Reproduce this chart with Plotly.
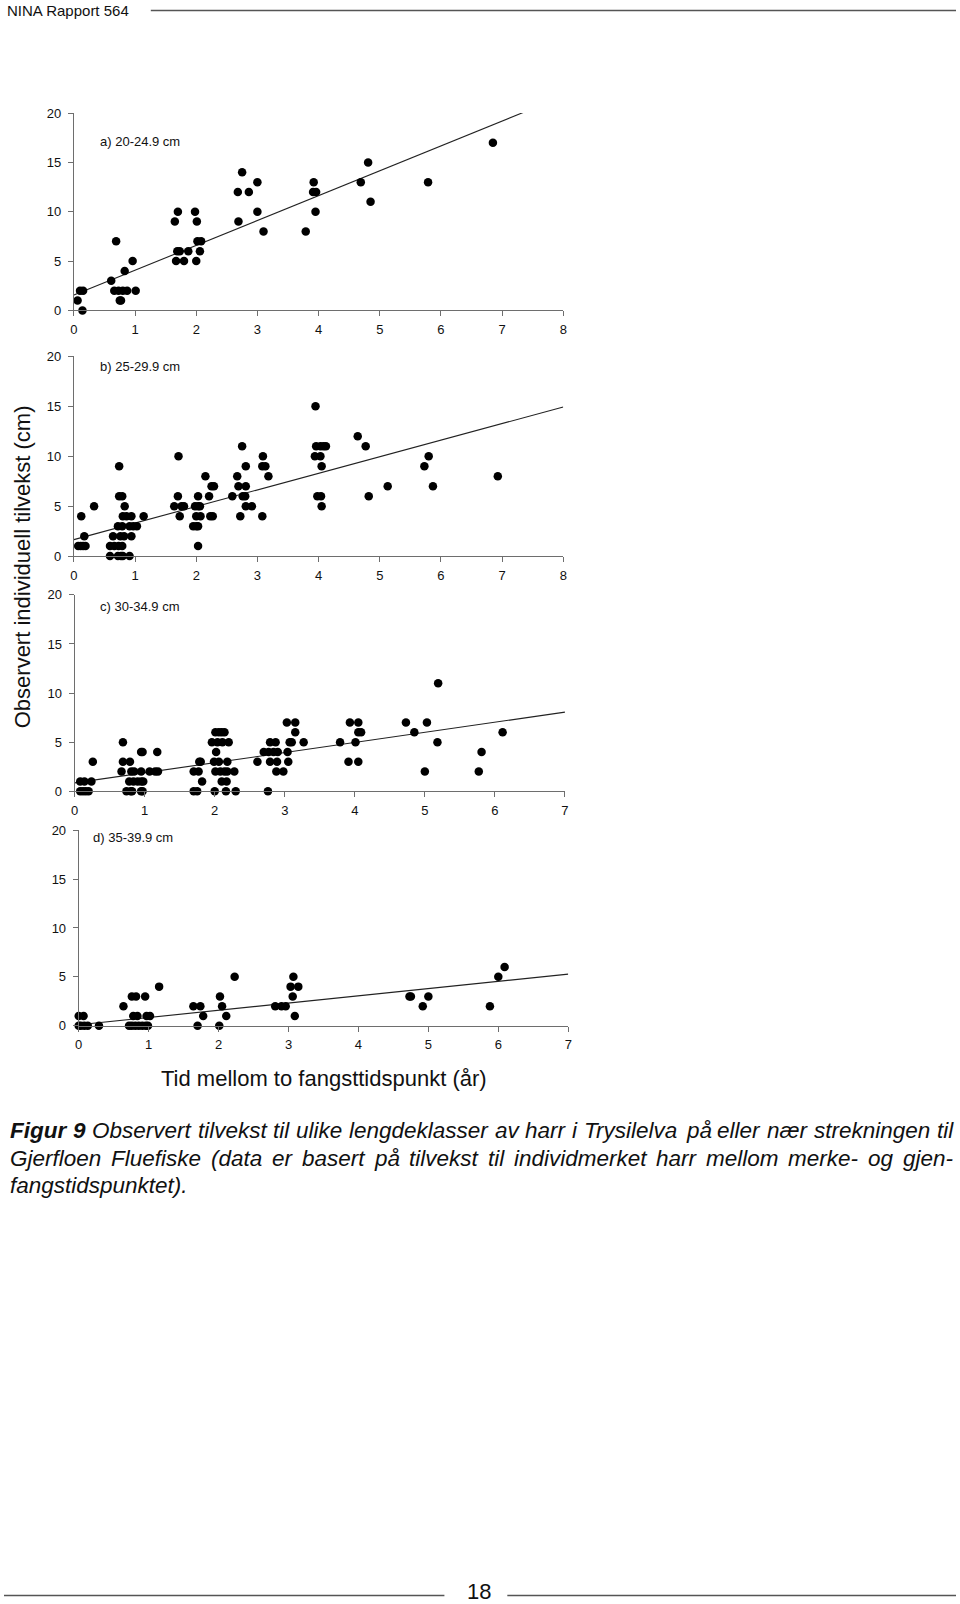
import plotly.graph_objects as go

# ---------------- data ----------------
a_x = [0.06, 0.10, 0.15, 0.14, 0.61, 0.69, 0.66, 0.73, 0.80, 0.87, 0.75, 0.77, 0.83, 0.96, 1.01,
       1.65, 1.70, 1.67, 1.69, 1.73, 1.80, 1.87, 1.98, 2.01, 2.00, 2.02, 2.08, 2.06,
       2.68, 2.69, 2.75, 2.86, 3.00, 3.00, 3.10, 3.79, 3.92, 3.91, 3.96, 3.95,
       4.69, 4.81, 4.85, 5.79, 6.85]
a_y = [1, 2, 2, 0, 3, 7, 2, 2, 2, 2, 1, 1, 4, 5, 2,
       9, 10, 5, 6, 6, 5, 6, 10, 9, 5, 7, 7, 6,
       12, 9, 14, 12, 13, 10, 8, 8, 13, 12, 12, 10,
       13, 15, 11, 13, 17]

b_x = [0.07, 0.11, 0.15, 0.19, 0.12, 0.17, 0.33,
       0.59, 0.59, 0.66, 0.73, 0.79, 0.64, 0.72, 0.77, 0.80, 0.91, 0.74, 0.74, 0.79, 0.72, 0.79,
       0.76, 0.82, 0.83, 0.80, 0.86, 0.91, 0.97, 1.03, 0.94, 0.94, 1.14,
       1.64, 1.76, 1.80, 1.70, 1.71, 1.73, 1.95, 2.00, 2.03, 1.98, 2.03, 2.06, 2.03, 2.00, 2.07,
       2.03, 2.15, 2.21, 2.23, 2.27, 2.25, 2.29,
       2.59, 2.67, 2.69, 2.72, 2.75, 2.76, 2.80, 2.81, 2.81, 2.81, 2.91, 3.08, 3.13, 3.09, 3.08, 3.18,
       3.94, 3.95, 3.96, 4.03, 4.08, 4.12, 4.03, 4.05, 3.98, 4.04, 4.05,
       4.64, 4.77, 4.82, 5.13, 5.73, 5.80, 5.87, 6.93]
b_y = [1, 1, 1, 1, 4, 2, 5,
       0, 1, 1, 1, 1, 2, 0, 0, 0, 0, 9, 6, 6, 3, 3,
       2, 2, 5, 4, 4, 3, 3, 3, 2, 4, 4,
       5, 5, 5, 6, 10, 4, 3, 3, 3, 5, 5, 5, 6, 4, 4,
       1, 8, 6, 4, 4, 7, 7,
       6, 8, 7, 4, 11, 6, 6, 7, 5, 9, 5, 9, 9, 10, 4, 8,
       10, 15, 11, 11, 11, 11, 10, 9, 6, 6, 5,
       12, 11, 6, 7, 9, 10, 7, 8]

c_x = [0.08, 0.12, 0.16, 0.20, 0.08, 0.14, 0.24, 0.26,
       0.67, 0.69, 0.69, 0.79, 0.74, 0.80, 0.82, 0.78, 0.84, 0.90, 0.95, 0.98, 0.81, 0.85,
       0.95, 0.95, 0.97, 0.95, 0.97, 1.07, 1.15, 1.19, 1.18,
       1.70, 1.77, 1.70, 1.75, 1.78, 1.80, 1.82,
       1.96, 2.04, 2.11, 2.20, 2.01, 2.06, 2.10, 2.14, 2.02, 1.99, 2.06, 2.18, 2.01, 2.08,
       2.14, 2.18, 2.10, 2.17, 2.00, 2.16, 2.28, 2.30,
       2.61, 2.70, 2.77, 2.84, 2.90, 2.79, 2.87, 2.79, 2.89, 2.76, 2.88, 2.98, 3.03, 3.15,
       3.04, 3.05, 3.07, 3.10, 3.15, 3.27,
       3.79, 3.91, 3.93, 4.01, 4.05, 4.05, 4.05, 4.09,
       4.73, 4.85, 5.00, 5.03, 5.19, 5.18, 5.77, 5.81, 6.11]
c_y = [0, 0, 0, 0, 1, 1, 1, 3,
       2, 5, 3, 3, 0, 0, 0, 1, 1, 1, 1, 1, 2, 2,
       2, 0, 0, 4, 4, 2, 2, 2, 4,
       2, 2, 0, 0, 3, 3, 1,
       5, 5, 5, 5, 6, 6, 6, 6, 4, 3, 3, 3, 2, 2,
       2, 2, 1, 1, 0, 0, 2, 0,
       3, 4, 4, 4, 4, 5, 5, 3, 3, 0, 2, 2, 7, 7,
       4, 3, 5, 5, 6, 5,
       5, 3, 7, 5, 7, 3, 6, 6,
       7, 6, 2, 7, 11, 5, 2, 4, 6]

d_x = [0.00, 0.03, 0.08, 0.13, 0.00, 0.07, 0.29,
       0.64, 0.72, 0.76, 0.81, 0.86, 0.91, 0.96, 0.99, 0.76, 0.82, 0.78, 0.84, 0.95, 0.97, 1.02, 1.15,
       1.64, 1.74, 1.70, 1.78, 2.01, 2.02, 2.05, 2.11, 2.23,
       2.81, 2.90, 2.96, 3.03, 3.06, 3.07, 3.14, 3.09,
       4.73, 4.75, 4.92, 5.00, 5.88, 6.00, 6.09]
d_y = [0, 0, 0, 0, 1, 1, 0,
       2, 0, 0, 0, 0, 0, 0, 0, 3, 3, 1, 1, 3, 1, 1, 4,
       2, 2, 0, 1, 0, 3, 2, 1, 5,
       2, 2, 2, 4, 3, 5, 4, 1,
       3, 3, 2, 3, 2, 5, 6]

# linear trend lines (intercept, slope)
trend_intercepts = [1.55, 1.65, 0.85, 0.10]
trend_slopes = [2.52, 1.66, 1.03, 0.74]

panel_labels = ["a) 20-24.9 cm", "b) 25-29.9 cm", "c) 30-34.9 cm", "d) 35-39.9 cm"]
x_max = [8, 8, 7, 7]
y_ticks = [0, 5, 10, 15, 20]

y_title = "Observert individuell tilvekst (cm)"
x_title = "Tid mellom to fangsttidspunkt (år)"
header = "NINA Rapport 564"
page_no = "18"
caption_lines = [
    "Figur 9 Observert tilvekst til ulike lengdeklasser av harr i Trysilelva på eller nær strekningen til",
    "Gjerfloen Fluefiske (data er basert på tilvekst til individmerket harr mellom merke- og gjen-",
    "fangstidspunktet).",
]
caption_bold_words = 2  # "Figur 9"

# ---------------- layout ----------------
W, H = 960, 1604
# small correction for the offset/scale observed between requested and photographed positions
OX, SX = 4.0, 0.993
OY, SY = 6.5, 0.991


def px(v):
    return ((v - OX) / SX) / W


def py(v):
    return 1 - ((v - OY) / SY) / H


# pixel boxes (target) of the four plot areas: (left, right, top, bottom)
boxes = [(74, 564, 112.6, 310), (74, 564, 356, 555.8), (74.7, 565.7, 594.6, 791), (78.8, 569, 830, 1025.6)]

FONT = "Liberation Sans, Arial, sans-serif"
AXC = "#6e6e6e"

fig = go.Figure()
xs = [a_x, b_x, c_x, d_x]
ys = [a_y, b_y, c_y, d_y]

layout = dict(width=W, height=H, margin=dict(l=0, r=0, t=0, b=0),
              paper_bgcolor="white", plot_bgcolor="white", showlegend=False,
              font=dict(family=FONT, color="#111", size=13))
annotations = []
shapes = []

label_px = [141, 366, 606, 837]
label_x = [98, 98, 98, 91]

for i in range(4):
    n = "" if i == 0 else str(i + 1)
    xa, ya = "x" + n, "y" + n
    l, r, t, b = boxes[i]
    layout["xaxis" + n] = dict(domain=[px(l), px(r)], range=[0, x_max[i]], anchor=ya,
                               tickmode="array", tickvals=list(range(x_max[i] + 1)),
                               showline=True, linecolor=AXC, linewidth=1,
                               ticks="outside", ticklen=5, tickcolor=AXC, tickwidth=1,
                               showgrid=False, zeroline=False, ticklabelstandoff=2,
                               tickfont=dict(family=FONT, size=13, color="#111"))
    layout["yaxis" + n] = dict(domain=[py(b), py(t)], range=[0, 20], anchor=xa,
                               tickmode="array", tickvals=y_ticks,
                               showline=True, linecolor=AXC, linewidth=1,
                               ticks="outside", ticklen=5, tickcolor=AXC, tickwidth=1,
                               showgrid=False, zeroline=False, ticklabelstandoff=4,
                               tickfont=dict(family=FONT, size=13, color="#111"))
    lx = [0, x_max[i]]
    ly = [trend_intercepts[i] + trend_slopes[i] * v for v in lx]
    fig.add_trace(go.Scatter(x=lx, y=ly, mode="lines", xaxis=xa, yaxis=ya,
                             line=dict(color="#222", width=1.1), hoverinfo="skip"))
    fig.add_trace(go.Scatter(x=xs[i], y=ys[i], mode="markers", xaxis=xa, yaxis=ya,
                             marker=dict(color="black", size=8.5, line=dict(width=0)),
                             cliponaxis=False))
    annotations.append(dict(text=panel_labels[i], xref="paper", yref="paper",
                            x=px(label_x[i]), y=py(label_px[i]), xanchor="left", yanchor="middle",
                            showarrow=False, font=dict(family=FONT, size=13, color="#111")))

# axis titles
annotations.append(dict(text=y_title, xref="paper", yref="paper", x=px(22), y=py(566),
                        textangle=-90, showarrow=False, xanchor="center", yanchor="middle",
                        font=dict(family=FONT, size=22, color="#111")))
annotations.append(dict(text=x_title, xref="paper", yref="paper", x=px(324), y=py(1078),
                        showarrow=False, xanchor="center", yanchor="middle",
                        font=dict(family=FONT, size=22, color="#111")))

# header and footer
annotations.append(dict(text=header, xref="paper", yref="paper", x=px(5), y=py(10),
                        showarrow=False, xanchor="left", yanchor="middle",
                        font=dict(family=FONT, size=15, color="#111")))
shapes.append(dict(type="line", xref="paper", yref="paper", x0=px(151), x1=1, y0=py(10), y1=py(10),
                   line=dict(color="#555", width=1.5)))
annotations.append(dict(text=page_no, xref="paper", yref="paper", x=px(480), y=py(1592),
                        showarrow=False, xanchor="center", yanchor="middle",
                        font=dict(family=FONT, size=22, color="#111")))
shapes.append(dict(type="line", xref="paper", yref="paper", x0=0, x1=px(445), y0=py(1595.5), y1=py(1595.5),
                   line=dict(color="#555", width=1.5)))
shapes.append(dict(type="line", xref="paper", yref="paper", x0=px(508), x1=1, y0=py(1595.5), y1=py(1595.5),
                   line=dict(color="#555", width=1.5)))

# ---- caption: justified text (Arial/Liberation metrics) ----
AW = {" ": 278, "(": 333, ")": 333, "-": 333, ".": 278,
      "A": 667, "B": 667, "C": 722, "D": 722, "E": 667, "F": 611, "G": 778, "H": 722, "I": 278,
      "J": 500, "K": 667, "L": 556, "M": 833, "N": 722, "O": 778, "P": 667, "R": 722, "S": 667,
      "T": 611, "U": 722, "V": 667, "W": 944, "Y": 667,
      "a": 556, "b": 556, "c": 500, "d": 556, "e": 556, "f": 278, "g": 556, "h": 556, "i": 222,
      "j": 222, "k": 500, "l": 222, "m": 833, "n": 556, "o": 556, "p": 556, "q": 556, "r": 333,
      "s": 500, "t": 278, "u": 556, "v": 500, "w": 722, "x": 500, "y": 500, "z": 500,
      "å": 556, "æ": 889, "ø": 611}
AWB = {"F": 611, "i": 278, "g": 611, "u": 611, "r": 389, " ": 278}


def word_w(wd, size, bold=False):
    tbl = AWB if bold else AW
    return sum(tbl.get(ch, AW.get(ch, 556)) for ch in wd) * size / 1000.0


CAP_SIZE = 22.5
cap_left, cap_right = 8, 952
cap_y = [1130, 1158, 1185]
for li, line in enumerate(caption_lines):
    words = line.split(" ")
    bolds = [(li == 0 and k < caption_bold_words) for k in range(len(words))]
    widths = [word_w(w_, CAP_SIZE, bb) for w_, bb in zip(words, bolds)]
    justify = li < len(caption_lines) - 1
    if justify and len(words) > 1:
        gap = (cap_right - cap_left - sum(widths)) / (len(words) - 1)
    else:
        gap = AW[" "] * CAP_SIZE / 1000.0
    xpos = cap_left
    for w_, bb, ww in zip(words, bolds, widths):
        txt = "<b><i>" + w_ + "</i></b>" if bb else "<i>" + w_ + "</i>"
        annotations.append(dict(text=txt, xref="paper", yref="paper", x=px(xpos), y=py(cap_y[li]),
                                showarrow=False, xanchor="left", yanchor="middle",
                                font=dict(family=FONT, size=CAP_SIZE, color="#111")))
        xpos += ww + gap

layout["annotations"] = annotations
layout["shapes"] = shapes
fig.update_layout(**layout)
fig.write_html("out.html")
